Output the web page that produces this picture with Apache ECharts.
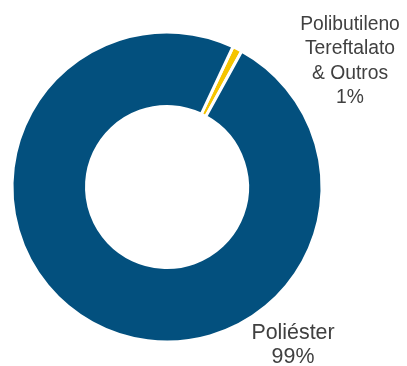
<!DOCTYPE html>
<html>
<head>
<meta charset="utf-8">
<script src="https://cdn.jsdelivr.net/npm/echarts@6/dist/echarts.min.js"></script>
<style>
html,body{margin:0;padding:0;background:#fff;}
#chart{width:407px;height:366px;}
</style>
</head>
<body>
<div id="chart"></div>
<script>
var categories = ['Polibutileno\nTereftalato\n& Outros', 'Poliéster'];
var values = [1, 99];
var labelTexts = ['Polibutileno\nTereftalato\n& Outros\n1%', 'Poliéster\n99%'];
var colors = ['#F5C400', '#03507E'];

var chart = echarts.init(document.getElementById('chart'));
var labelPos = [[350, 61, 19.3], [293, 345, 21.4]];
chart.setOption({
  animation: false,
  series: [{
    type: 'pie',
    center: [167, 187],
    radius: [80.5, 155],
    startAngle: 64.8,
    clockwise: true,
    avoidLabelOverlap: false,
    data: categories.map(function (c, i) {
      return {
        name: c,
        value: values[i],
        itemStyle: { color: colors[i] },
        label: {
          formatter: labelTexts[i],
          fontSize: labelPos[i][2],
          lineHeight: 24.4
        }
      };
    }),
    itemStyle: { borderColor: '#ffffff', borderWidth: 3 },
    label: {
      show: true,
      position: 'outside',
      color: '#404040',
      fontFamily: 'Liberation Sans, Arial, sans-serif',
      align: 'center'
    },
    labelLine: { show: false },
    labelLayout: function (p) {
      var lp = labelPos[p.dataIndex];
      return { x: lp[0], y: lp[1], align: 'center', verticalAlign: 'middle' };
    }
  }]
});
</script>
</body>
</html>
